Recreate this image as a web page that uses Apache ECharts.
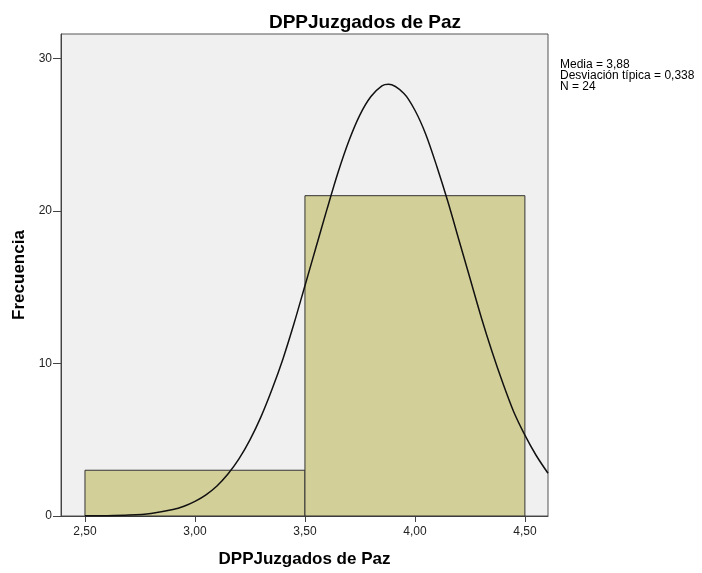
<!DOCTYPE html>
<html>
<head>
<meta charset="utf-8">
<script src="https://cdn.jsdelivr.net/npm/echarts@6/dist/echarts.min.js"></script>
<style>
  html, body { margin: 0; padding: 0; background: #fff; }
  #chart { width: 702px; height: 573px; }
</style>
</head>
<body>
<div id="chart"></div>
<script>
  // intervalos del histograma [desde, hasta, frecuencia]
  const binStart = [2.5, 3.5];
  const binEnd = [3.5, 4.5];
  const binCount = [3, 21];

  // curva normal
  const curveX = [2.5, 2.6, 2.7, 2.8, 2.9, 2.95, 3.0, 3.05, 3.1, 3.15, 3.2, 3.25, 3.3, 3.35, 3.4, 3.45, 3.5, 3.55, 3.6, 3.65, 3.7, 3.75, 3.8, 3.85, 3.88, 3.95, 4.0, 4.05, 4.1, 4.15, 4.2, 4.25, 4.3, 4.35, 4.4, 4.45, 4.5, 4.55, 4.605];
  const curveY = [0.01, 0.02, 0.06, 0.17, 0.42, 0.64, 0.96, 1.39, 1.97, 2.75, 3.74, 4.99, 6.5, 8.29, 10.3, 12.6, 15.1, 17.6, 20.1, 22.5, 24.6, 26.3, 27.5, 28.2, 28.3, 27.7, 26.6, 25.0, 22.9, 20.6, 18.1, 15.6, 13.1, 10.8, 8.7, 6.8, 5.3, 4.0, 2.8];

  const xTicks = [2.5, 3.0, 3.5, 4.0, 4.5];
  const yTicks = [0, 10, 20, 30];
  const statsLines = ['Media = 3,88', 'Desviación típica = 0,338', 'N = 24'];

  const font = 'Liberation Sans, Arial, sans-serif';
  const chart = echarts.init(document.getElementById('chart'));

  chart.setOption({
    animation: false,
    title: {
      text: 'DPPJuzgados de Paz',
      left: 360,
      top: 8,
      textAlign: 'center',
      textStyle: { fontFamily: font, fontSize: 19, fontWeight: 'bold', color: '#000' }
    },
    grid: {
      left: 61,
      top: 34,
      right: 154,
      bottom: 54,
      show: true,
      backgroundColor: '#f0f0f0',
      borderColor: '#555',
      borderWidth: 1
    },
    xAxis: {
      type: 'value',
      min: 2.391,
      max: 4.605,
      name: 'DPPJuzgados de Paz',
      nameLocation: 'middle',
      nameGap: 35,
      nameTextStyle: { fontFamily: font, fontSize: 17, fontWeight: 'bold', color: '#000' },
      splitLine: { show: false },
      axisLine: { show: true, lineStyle: { color: '#444', width: 1 } },
      axisTick: { show: true, length: 6, customValues: xTicks, lineStyle: { color: '#444' } },
      axisLabel: {
        customValues: xTicks,
        margin: 10,
        fontFamily: font,
        fontSize: 12,
        color: '#222',
        formatter: v => v.toFixed(2).replace('.', ',')
      }
    },
    yAxis: {
      type: 'value',
      min: 0,
      max: 31.6,
      name: 'Frecuencia',
      nameLocation: 'middle',
      nameGap: 33,
      nameTextStyle: { fontFamily: font, fontSize: 17, fontWeight: 'bold', color: '#000' },
      splitLine: { show: false },
      axisLine: { show: true, lineStyle: { color: '#444', width: 1 } },
      axisTick: { show: true, length: 8, customValues: yTicks, lineStyle: { color: '#444' } },
      axisLabel: { customValues: yTicks, margin: 9, fontFamily: font, fontSize: 12, color: '#222' }
    },
    graphic: [{
      type: 'text',
      left: 560,
      top: 59,
      style: {
        text: statsLines.join('\n'),
        fontFamily: font,
        fontSize: 12,
        lineHeight: 11,
        fill: '#000'
      }
    }],
    series: [
      {
        type: 'custom',
        data: binStart.map((s, i) => [s, binEnd[i], binCount[i]]),
        encode: { x: [0, 1], y: 2 },
        renderItem: function (params, api) {
          const p0 = api.coord([api.value(0), api.value(2)]);
          const p1 = api.coord([api.value(1), 0]);
          return {
            type: 'rect',
            shape: { x: p0[0], y: p0[1], width: p1[0] - p0[0], height: p1[1] - p0[1] },
            style: { fill: '#d3cf98', stroke: '#333', lineWidth: 1 }
          };
        },
        z: 2
      },
      {
        type: 'line',
        data: curveX.map((x, i) => [x, curveY[i]]),
        smooth: 0.3,
        symbol: 'none',
        lineStyle: { color: '#111', width: 1.5 },
        z: 3
      }
    ]
  });
</script>
</body>
</html>
